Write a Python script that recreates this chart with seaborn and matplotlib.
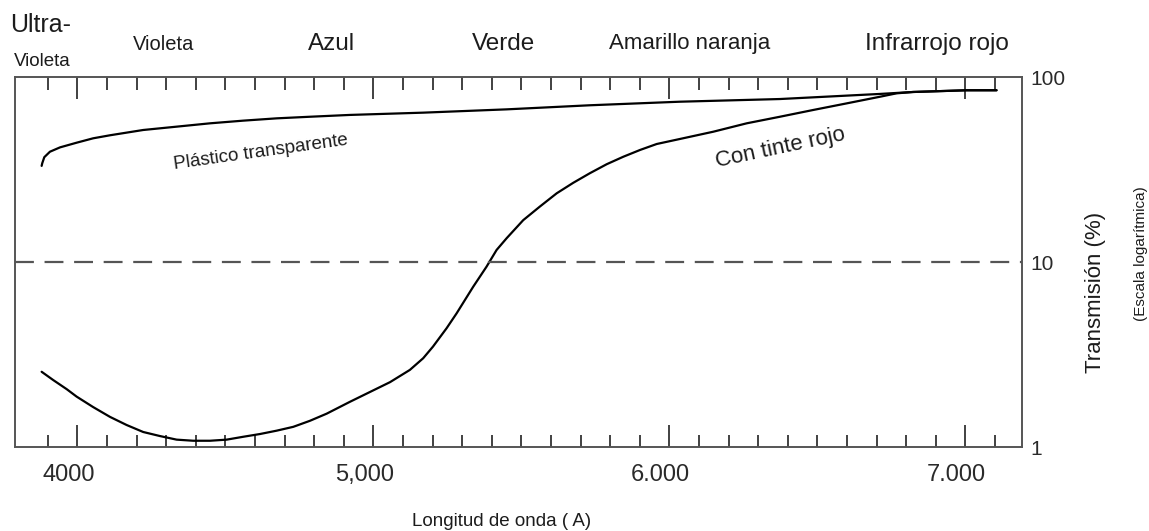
import matplotlib
matplotlib.use("Agg")
import matplotlib.pyplot as plt
from matplotlib.transforms import ScaledTranslation
import numpy as np
import pandas as pd
import seaborn as sns

# ---------------- data ----------------
wl_clear = [3879, 3881, 3888, 3907, 3941, 3997, 4053, 4110, 4222, 4335, 4448,
            4560, 4673, 4785, 4920, 5168, 5450, 5731, 6035, 6373, 6711, 6823,
            7004, 7105]
tr_clear = [33.2, 34.3, 37.0, 39.6, 41.8, 44.3, 46.8, 48.6, 51.9, 54.1, 56.4,
            58.3, 60.0, 61.2, 62.6, 64.4, 67.1, 70.6, 73.8, 76.3, 81.3, 83.3,
            85.1, 85.1]

wl_red = [3879, 3918, 3964, 3997, 4053, 4110, 4166, 4222, 4279, 4335, 4391,
          4448, 4504, 4560, 4617, 4673, 4729, 4785, 4842, 4920, 4999, 5056,
          5123, 5168, 5201, 5247, 5281, 5337, 5382, 5416, 5450, 5506, 5562,
          5619, 5675, 5731, 5788, 5844, 5901, 5957, 6035, 6148, 6261, 6373,
          6486, 6599, 6711, 6767, 6823, 7004, 7105]
tr_red = [2.56, 2.31, 2.06, 1.88, 1.65, 1.46, 1.32, 1.21, 1.15, 1.10, 1.085,
          1.085, 1.10, 1.14, 1.18, 1.23, 1.29, 1.39, 1.52, 1.76, 2.03, 2.25,
          2.62, 3.03, 3.50, 4.40, 5.30, 7.38, 9.47, 11.66, 13.5, 16.9, 20.0,
          23.6, 26.9, 30.3, 33.9, 37.2, 40.5, 43.6, 46.4, 50.8, 56.4, 61.2,
          66.6, 72.3, 78.5, 81.9, 83.3, 85.1, 85.1]

reference_level = 10

x_major = [4000, 5000, 6000, 7000]
x_major_labels = ["4000", "5,000", "6.000", "7.000"]
x_minor = list(range(3900, 7101, 100))
y_ticks = [1, 10, 100]
y_tick_labels = ["1", "10", "100"]

bands = ["Violeta", "Azul", "Verde", "Amarillo naranja", "Infrarrojo rojo"]

# ---------------- figure ----------------
sns.set_theme(style="white")
plt.rcParams["font.family"] = ["Liberation Sans", "DejaVu Sans"]
TXT = "#1c1c1c"

W, H = 1149, 531
fig = plt.figure(figsize=(W / 100, H / 100), dpi=100)
L, R, T, B = 15, 1022, 77.3, 447.3
ax = fig.add_axes([L / W, 1 - B / H, (R - L) / W, (B - T) / H])

df_clear = pd.DataFrame({"wl": wl_clear, "tr": tr_clear})
df_red = pd.DataFrame({"wl": wl_red, "tr": tr_red})
sns.lineplot(data=df_clear, x="wl", y="tr", color="black", lw=1.6, ax=ax,
             estimator=None)
sns.lineplot(data=df_red, x="wl", y="tr", color="black", lw=1.6, ax=ax,
             estimator=None)
ax.axhline(reference_level, color="#555555", lw=1.6, dashes=(8.5, 4.8))

ax.set_yscale("log")
ax.set_ylim(1, 100)
ax.set_xlim(3789, 7191)

# x ticks: inside, both top and bottom
ax.set_xticks(x_major)
ax.set_xticklabels(x_major_labels)
ax.set_xticks(x_minor, minor=True)
ax.tick_params(axis="x", which="major", direction="in", length=15.5, width=1.3,
               color="#333333", top=True, bottom=True, labelsize=17,
               labelcolor="#2a2a2a", pad=12)
ax.tick_params(axis="x", which="minor", direction="in", length=9, width=1.3,
               color="#333333", top=True, bottom=True)
shift = ScaledTranslation(-9 / 100, 0, fig.dpi_scale_trans)
for lab in ax.get_xticklabels():
    lab.set_transform(lab.get_transform() + shift)

# y labels on the right, no tick marks
ax.yaxis.tick_right()
ax.set_yticks(y_ticks)
ax.set_yticklabels(y_tick_labels)
ax.yaxis.set_minor_locator(matplotlib.ticker.NullLocator())
ax.tick_params(axis="y", which="major", length=0, labelsize=15,
               labelcolor="#2a2a2a", pad=6)

for sp in ax.spines.values():
    sp.set_visible(True)
    sp.set_color("#555555")
    sp.set_linewidth(1.4)

ax.set_xlabel("")
ax.set_ylabel("")

# curve labels
ax.text(4620, 39.5, "Plástico transparente", rotation=8, fontsize=13.5,
        color=TXT, ha="center", va="center", rotation_mode="anchor")
ax.text(6376, 41.5, "Con tinte rojo", rotation=12, fontsize=16,
        color=TXT, ha="center", va="center", rotation_mode="anchor")

# band labels above the plot
def ftext(px, py, s, **kw):
    fig.text(px / W, 1 - py / H, s, color=TXT, ha="center", va="center", **kw)

ftext(41, 25, "Ultra-", fontsize=18)
ftext(42.5, 61, "Violeta", fontsize=13.5)
band_px = [164, 332, 504, 690, 937]
band_fs = [14.5, 17.5, 17.5, 16, 17.5]
for b, px, fs in zip(bands, band_px, band_fs):
    ftext(px, 44, b, fontsize=fs)

ftext(502, 521, "Longitud de onda ( A)", fontsize=13.5)
ftext(1095, 292, "Transmisión (%)", fontsize=16, rotation=90)
ftext(1141, 254, "(Escala logarítmica)", fontsize=11, rotation=90)

fig.savefig("out.png", dpi=100)
